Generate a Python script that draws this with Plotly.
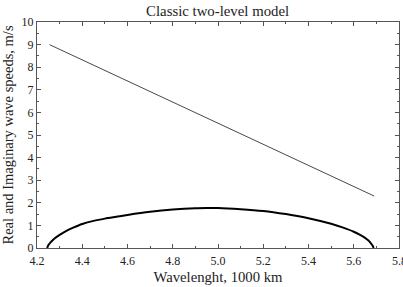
import plotly.graph_objects as go

# Data
line_x = [4.255, 5.69]
line_y = [9.0, 2.3]

curve_x = [4.245, 4.25, 4.26, 4.27, 4.28, 4.30, 4.33, 4.36, 4.40, 4.45, 4.50, 4.55, 4.60,
           4.70, 4.80, 4.90, 4.95, 5.00, 5.10, 5.20, 5.30, 5.40, 5.50, 5.55, 5.60, 5.63,
           5.65, 5.665, 5.675, 5.683, 5.688]
curve_y = [0.0, 0.12, 0.25, 0.35, 0.44, 0.58, 0.76, 0.90, 1.06, 1.20, 1.30, 1.38, 1.46,
           1.60, 1.70, 1.76, 1.77, 1.77, 1.72, 1.64, 1.50, 1.32, 1.07, 0.91, 0.72, 0.57,
           0.45, 0.33, 0.22, 0.11, 0.0]

x_ticks = [4.2, 4.4, 4.6, 4.8, 5.0, 5.2, 5.4, 5.6, 5.8]
x_ticklabels = ["4.2", "4.4", "4.6", "4.8", "5.0", "5.2", "5.4", "5.6", "5.8"]
y_ticks = list(range(0, 11))

FONT = "Liberation Serif"
TXT = "#222222"

fig = go.Figure()
fig.add_trace(go.Scatter(x=line_x, y=line_y, mode="lines",
                         line=dict(color="#333333", width=0.9), showlegend=False))
fig.add_trace(go.Scatter(x=curve_x, y=curve_y, mode="lines",
                         line=dict(color="black", width=2, shape="spline", smoothing=0.8),
                         showlegend=False))

axis_common = dict(
    showgrid=False, zeroline=False, showline=True, linecolor="#555555", linewidth=1,
    mirror="allticks", ticks="inside", ticklen=4, tickcolor="#555555", tickwidth=1,
    tickfont=dict(family=FONT, size=12, color=TXT),
)

fig.update_layout(
    width=403, height=287,
    margin=dict(l=37, r=4, t=22, b=39),
    paper_bgcolor="white", plot_bgcolor="white",
    font=dict(family=FONT, color=TXT),
    title=dict(text="Classic two-level model", x=0.54, xanchor="center", y=0.962, yanchor="middle",
               font=dict(family=FONT, size=14.8, color=TXT)),
    xaxis=dict(range=[4.2, 5.8], tickvals=x_ticks, ticktext=x_ticklabels,
               ticklabelstandoff=2,
               minor=dict(dtick=0.1, ticks="inside", ticklen=2, tickcolor="#555555"),
               title=dict(text="Wavelenght, 1000 km", standoff=4,
                          font=dict(family=FONT, size=14.7, color=TXT)),
               **axis_common),
    yaxis=dict(range=[0, 10], tickvals=y_ticks,
               minor=dict(dtick=0.5, ticks="inside", ticklen=2, tickcolor="#555555"),
               title=dict(text="Real and Imaginary wave speeds, m/s", standoff=4,
                          font=dict(family=FONT, size=14.5, color=TXT)),
               **axis_common),
)

# last x tick label, partly beyond the right edge as in the reference
fig.add_annotation(x=5.8, xref="x", y=0, yref="y", text="5.8", showarrow=False,
                   yanchor="top", yshift=-4, font=dict(family=FONT, size=12, color=TXT))

fig.write_html("out.html")
